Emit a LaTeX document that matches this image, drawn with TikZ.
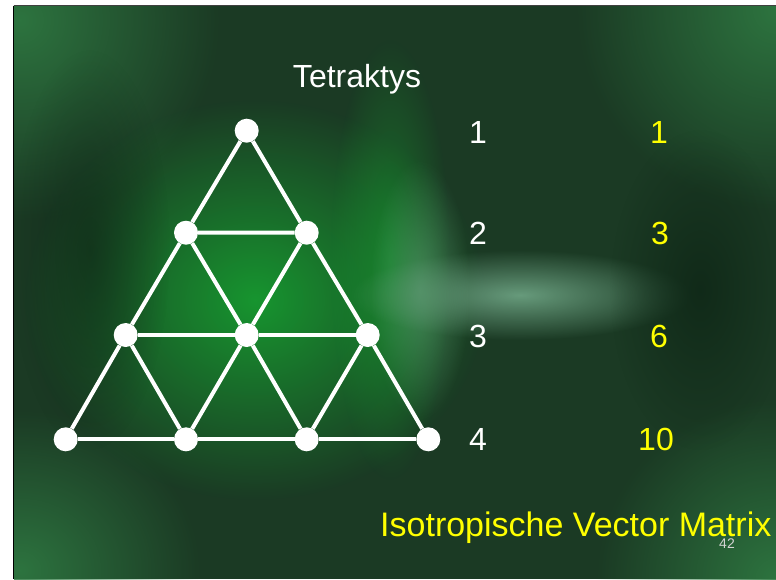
\documentclass[tikz,border=0pt]{standalone}
\usepackage{fontspec}
\setmainfont{Liberation Sans}
\usetikzlibrary{fadings}
\tikzfading[name=softglow, inner color=transparent!0, outer color=transparent!100]
\definecolor{bgbase}{HTML}{1B3A24}
\definecolor{glowgreen}{HTML}{179A30}
\definecolor{palegreen}{HTML}{6FA585}
\definecolor{cornergreen}{HTML}{2F7A42}
\definecolor{darkspot}{HTML}{0E2616}
\definecolor{numyellow}{HTML}{FFFF00}
\definecolor{pagenum}{HTML}{D4D4D4}
\tikzset{
  dot/.style={circle, fill=white, minimum size=24pt, inner sep=0pt},
  edge/.style={white, line width=4pt},
  whitenum/.style={text=white, font=\fontsize{32}{38}\selectfont, inner sep=0pt, anchor=base west},
  yellownum/.style={text=numyellow, font=\fontsize{32}{38}\selectfont, inner sep=0pt, anchor=base},
  glow/.style={path fading=softglow},
}
\begin{document}
\begin{tikzpicture}[x=1pt,y=-1pt]
\useasboundingbox (0,0) rectangle (776,579);
\fill[white] (0,0) rectangle (776,579);
\fill[bgbase] (14,6) rectangle (776,579);
\begin{scope}
\clip (14,6) rectangle (776,579);
\fill[cornergreen, glow, opacity=0.9] (20,20) ellipse [x radius=200, y radius=200];
\fill[cornergreen, glow, opacity=0.9] (20,570) ellipse [x radius=180, y radius=160];
\fill[cornergreen, glow, opacity=0.9] (776,10) ellipse [x radius=200, y radius=200];
\fill[cornergreen, glow, opacity=0.9] (776,579) ellipse [x radius=180, y radius=180];
\fill[glowgreen, glow, opacity=0.95] (255,300) ellipse [x radius=230, y radius=200];
\fill[glowgreen, glow, opacity=0.6] (390,260) ellipse [x radius=60, y radius=220];
\fill[palegreen, glow, opacity=0.9] (520,295) ellipse [x radius=170, y radius=45];
\fill[palegreen, glow, opacity=0.5] (420,290) ellipse [x radius=50, y radius=130];
\fill[darkspot, glow, opacity=0.8] (700,290) ellipse [x radius=90, y radius=160];
\fill[darkspot, glow, opacity=0.6] (90,250) ellipse [x radius=80, y radius=200];
\end{scope}
\draw[black, line width=1.5pt] (13.5,5.5) -- (13.5,579);
\draw[black!75, line width=1.5pt] (13.5,5.5) -- (776,5.5);

% Tetraktys lattice
\node[dot] (a1) at (246.7,130.7) {};
\node[dot] (b1) at (186,232.7) {};
\node[dot] (b2) at (306.7,232.7) {};
\node[dot] (c1) at (125.7,335) {};
\node[dot] (c2) at (246.7,335) {};
\node[dot] (c3) at (367.7,335) {};
\node[dot] (d1) at (65.7,439.3) {};
\node[dot] (d2) at (186,439.3) {};
\node[dot] (d3) at (306.7,439.3) {};
\node[dot] (d4) at (428.3,439.3) {};
\draw[edge] (a1) -- (b1) (a1) -- (b2) (b1) -- (b2);
\draw[edge] (b1) -- (c1) (b1) -- (c2) (b2) -- (c2) (b2) -- (c3);
\draw[edge] (c1) -- (c2) (c2) -- (c3);
\draw[edge] (c1) -- (d1) (c1) -- (d2) (c2) -- (d2) (c2) -- (d3) (c3) -- (d3) (c3) -- (d4);
\draw[edge] (d1) -- (d2) (d2) -- (d3) (d3) -- (d4);

\node[text=white, font=\fontsize{32}{38}\selectfont, inner sep=0pt, anchor=base] (title) at (357,87) {Tetraktys};

\node[whitenum] (n1) at (469,143) {1};
\node[whitenum] (n2) at (469,244) {2};
\node[whitenum] (n3) at (469,347) {3};
\node[whitenum] (n4) at (469,450) {4};
\node[yellownum] (s1) at (659,143) {1};
\node[yellownum] (s2) at (660,244) {3};
\node[yellownum] (s3) at (659,347) {6};
\node[yellownum] (s4) at (656,450) {10};

\node[text=numyellow, font=\fontsize{34}{40}\selectfont, inner sep=0pt, anchor=base west] (ivm) at (380,536) {Isotropische Vector Matrix};
\node[text=pagenum, font=\fontsize{14}{16}\selectfont, inner sep=0pt, anchor=base] (page) at (727,548) {42};
\end{tikzpicture}
\end{document}
